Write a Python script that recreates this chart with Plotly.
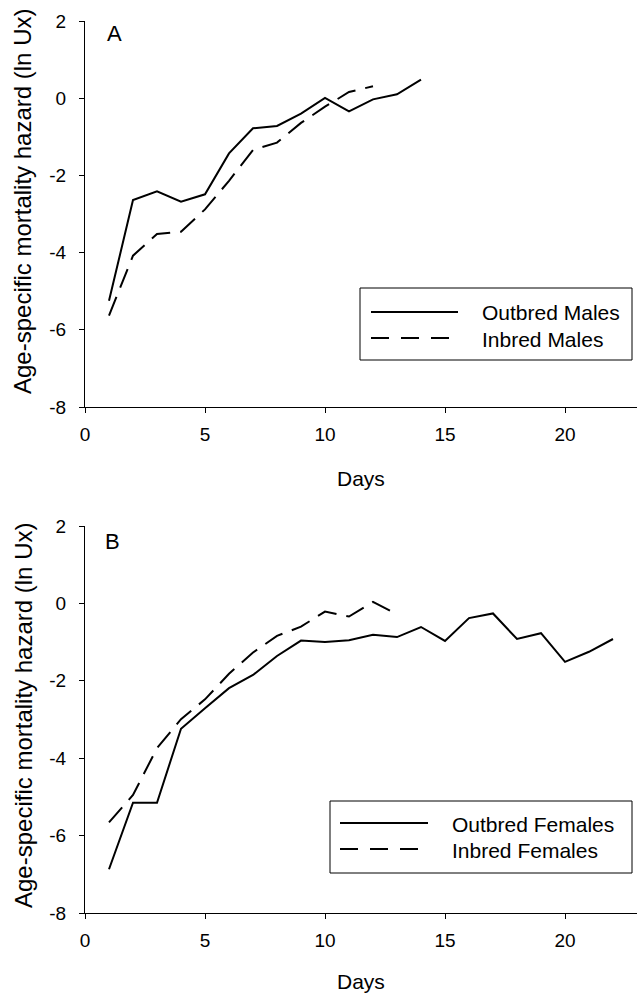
import plotly.graph_objects as go

# ---------------- data ----------------
days_out_m = [1, 2, 3, 4, 5, 6, 7, 8, 9, 10, 11, 12, 13, 14]
out_males = [-5.25, -2.64, -2.41, -2.68, -2.49, -1.43, -0.78, -0.72, -0.40, 0.01, -0.34, -0.03, 0.10, 0.48]
days_in_m = [1, 2, 3, 4, 5, 6, 7, 8, 9, 10, 11, 12]
in_males = [-5.63, -4.08, -3.52, -3.46, -2.88, -2.14, -1.34, -1.15, -0.64, -0.22, 0.16, 0.31]

days_out_f = [1, 2, 3, 4, 5, 6, 7, 8, 9, 10, 11, 12, 13, 14, 15, 16, 17, 18, 19, 20, 21, 22]
out_females = [-6.87, -5.15, -5.15, -3.24, -2.71, -2.19, -1.85, -1.36, -0.96, -1.00, -0.95, -0.81,
               -0.87, -0.61, -0.97, -0.38, -0.26, -0.92, -0.77, -1.51, -1.25, -0.92]
days_in_f = [1, 2, 3, 4, 5, 6, 7, 8, 9, 10, 11, 12, 13]
in_females = [-5.66, -4.95, -3.74, -2.99, -2.48, -1.82, -1.27, -0.84, -0.60, -0.21, -0.34, 0.04, -0.28]

x_ticks = [0, 5, 10, 15, 20]
x_tick_labels = ["0", "5", "10", "15", "20"]
y_ticks = [-8, -6, -4, -2, 0, 2]
y_tick_labels = ["-8", "-6", "-4", "-2", "0", "2"]

# ---------------- layout geometry (pixels) ----------------
W, H = 637, 993
ML, MR, MT, MB = 85, 0, 21, 80
PW = W - ML - MR
PH = H - MT - MB

def px(x):
    return (x - ML) / PW

def py(y):
    return (H - MB - y) / PH

FONT = "Liberation Sans, Arial, sans-serif"
DASH = "20px,10px"

fig = go.Figure()
fig.add_trace(go.Scatter(x=days_out_m, y=out_males, mode="lines", xaxis="x", yaxis="y",
                         line=dict(color="black", width=2), name="Outbred Males", showlegend=False))
fig.add_trace(go.Scatter(x=days_in_m, y=in_males, mode="lines", xaxis="x", yaxis="y",
                         line=dict(color="black", width=2, dash=DASH), name="Inbred Males", showlegend=False))
fig.add_trace(go.Scatter(x=days_out_f, y=out_females, mode="lines", xaxis="x2", yaxis="y2",
                         line=dict(color="black", width=2), name="Outbred Females", showlegend=False))
fig.add_trace(go.Scatter(x=days_in_f, y=in_females, mode="lines", xaxis="x2", yaxis="y2",
                         line=dict(color="black", width=2, dash=DASH), name="Inbred Females", showlegend=False))

xa = dict(range=[0, 23], tickvals=x_ticks, ticktext=x_tick_labels, showline=True, linecolor="black",
          linewidth=1, ticks="outside", ticklen=5, tickcolor="black", showgrid=False, zeroline=False,
          tickfont=dict(family=FONT, size=19, color="black"), ticklabelstandoff=5)
ya = dict(range=[-8, 2], tickvals=y_ticks, ticktext=y_tick_labels, showline=True, linecolor="black",
          linewidth=1, ticks="outside", ticklen=5, tickcolor="black", showgrid=False, zeroline=False,
          tickfont=dict(family=FONT, size=19, color="black"), ticklabelstandoff=9)

yA0, yA1 = py(407), py(21)
yB0, yB1 = py(913), py(526)

fig.update_layout(
    width=W, height=H,
    margin=dict(l=ML, r=MR, t=MT, b=MB),
    paper_bgcolor="white", plot_bgcolor="white",
    xaxis=dict(xa, anchor="y", domain=[0, 1]),
    yaxis=dict(ya, anchor="x", domain=[yA0, yA1]),
    xaxis2=dict(xa, anchor="y2", domain=[0, 1]),
    yaxis2=dict(ya, anchor="x2", domain=[yB0, yB1]),
    showlegend=False,
)

ann = []
ytitle = "Age-specific mortality hazard (ln Ux)"
for yc in [py(202), py(716)]:
    ann.append(dict(text=ytitle, xref="paper", yref="paper", x=px(23), y=yc, textangle=-90,
                    showarrow=False, xanchor="center", yanchor="middle",
                    font=dict(family=FONT, size=24, color="black")))
for yc in [py(478), py(981)]:
    ann.append(dict(text="Days", xref="paper", yref="paper", x=0.5, y=yc, showarrow=False,
                    xanchor="center", yanchor="middle", font=dict(family=FONT, size=21, color="black")))
ann.append(dict(text="A", xref="paper", yref="paper", x=px(114), y=py(34), showarrow=False,
                xanchor="center", yanchor="middle", font=dict(family=FONT, size=22, color="black")))
ann.append(dict(text="B", xref="paper", yref="paper", x=px(112), y=py(541), showarrow=False,
                xanchor="center", yanchor="middle", font=dict(family=FONT, size=22, color="black")))

shapes = []
legends = [
    (360, 632, 288, 360, 371, 458, (312, 338), 480, ("Outbred Males", "Inbred Males")),
    (330, 632, 801, 873, 340, 428, (823, 849), 450, ("Outbred Females", "Inbred Females")),
]
for bx0, bx1, by0, by1, lx0, lx1, lys, tx, labels in legends:
    shapes.append(dict(type="rect", xref="paper", yref="paper", x0=px(bx0), x1=px(bx1),
                       y0=py(by1), y1=py(by0), line=dict(color="black", width=1), fillcolor="white", layer="above"))
    shapes.append(dict(type="line", xref="paper", yref="paper", x0=px(lx0), x1=px(lx1),
                       y0=py(lys[0]), y1=py(lys[0]), line=dict(color="black", width=2)))
    shapes.append(dict(type="line", xref="paper", yref="paper", x0=px(lx0), x1=px(lx1 - 9),
                       y0=py(lys[1]), y1=py(lys[1]), line=dict(color="black", width=2, dash="18px,12px")))
    for ly, lab in zip(lys, labels):
        ann.append(dict(text=lab, xref="paper", yref="paper", x=px(tx), y=py(ly + 1), showarrow=False,
                        xanchor="left", yanchor="middle", font=dict(family=FONT, size=21, color="black")))

fig.update_layout(annotations=ann, shapes=shapes)
fig.write_html("out.html", config={"displayModeBar": False},
               post_script="document.body.style.margin='0';document.body.style.overflow='hidden';")
